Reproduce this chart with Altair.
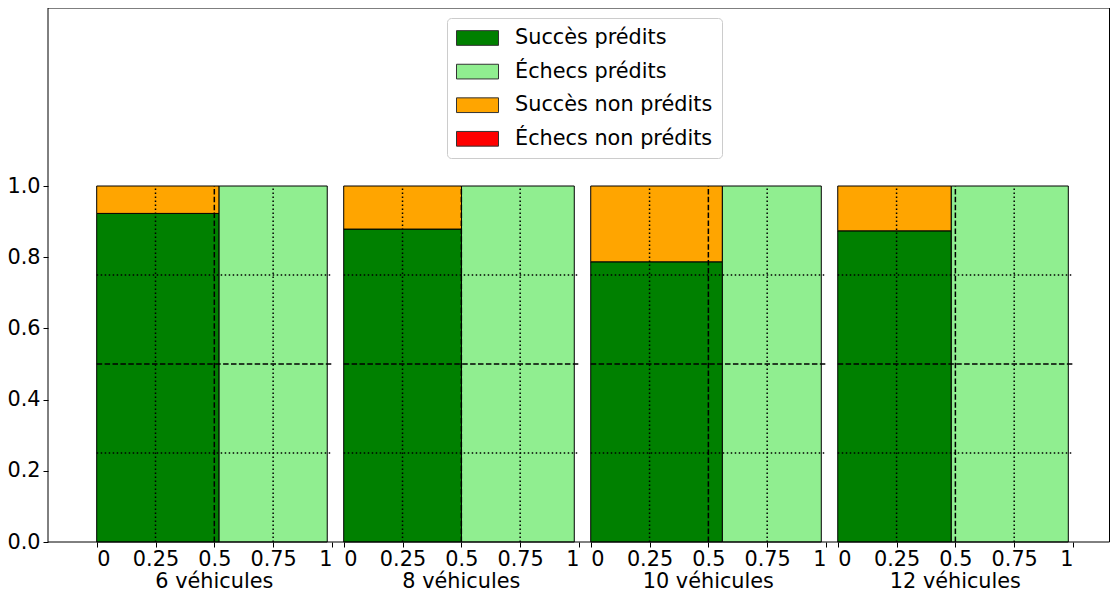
import json
import altair as alt
import pandas as pd

# ---- data ----
groups = ["6 véhicules", "8 véhicules", "10 véhicules", "12 véhicules"]
pred_success_share = [0.531, 0.511, 0.571, 0.4925]   # width share of the "predicted success" column
succes_predits = [0.923, 0.879, 0.787, 0.874]        # height of "Succès prédits" in that column
echecs_predits = [1.0, 1.0, 1.0, 1.0]                # height of "Échecs prédits" in the other column
categories = ["Succès prédits", "Échecs prédits", "Succès non prédits", "Échecs non prédits"]
colors = ["#008000", "#90EE90", "#FFA500", "#FF0000"]
tick_fracs = [0.0, 0.25, 0.5, 0.75, 1.0]
tick_labels = ["0", "0.25", "0.5", "0.75", "1"]
y_ticks = [0.0, 0.2, 0.4, 0.6, 0.8, 1.0]

# ---- layout constants ----
GROUP_STEP = 1.05
SPAN = 0.98
X_DOMAIN = [-0.207, 4.337]
Y_DOMAIN = [0, 1.5]
PLOT_W = 1069          # full plot-area width used by the x scale
W, H = 1062, 534       # view kept inside the page so nothing overflows sideways
FONT = "DejaVu Sans"
FS = 20.8

rects = []
for i, g in enumerate(groups):
    off = round(i * GROUP_STEP, 4)
    w = pred_success_share[i] * SPAN
    s = succes_predits[i]
    f = echecs_predits[i]
    rects.append(dict(grp=g, cat=categories[0], x=off, x2=off + w, y=0, y2=s))
    rects.append(dict(grp=g, cat=categories[2], x=off, x2=off + w, y=s, y2=1))
    rects.append(dict(grp=g, cat=categories[1], x=off + w, x2=off + SPAN, y=0, y2=f))
    if f < 1:
        rects.append(dict(grp=g, cat=categories[3], x=off + w, x2=off + SPAN, y=f, y2=1))
rects = pd.DataFrame(rects)

offsets = [round(i * GROUP_STEP, 4) for i in range(len(groups))]
vdot = pd.DataFrame([dict(x=o + fr, y=0, y2=1) for o in offsets for fr in (0.25, 0.75)])
vdash = pd.DataFrame([dict(x=o + 0.5, y=0, y2=1) for o in offsets])
hdot = pd.DataFrame([dict(x=o, x2=o + 1, y=yy) for o in offsets for yy in (0.25, 0.75)])
hdash = pd.DataFrame([dict(x=o, x2=o + 1, y=0.5) for o in offsets])
labels_df = pd.DataFrame([dict(x=o + 0.5, t=g) for o, g in zip(offsets, groups)])
frame_df = pd.DataFrame([dict(k=1)])

xvals = [round(o + fr, 4) for o in offsets for fr in tick_fracs]
xlabs = tick_labels * len(groups)
zeros = [round(o, 4) for o in offsets]
ones = [round(o + 1.0, 4) for o in offsets]

label_expr = f"{json.dumps(xlabs)}[indexof({json.dumps(xvals)}, datum.value)]"
label_align = {
    "condition": [
        {"test": f"indexof({json.dumps(zeros)}, datum.value) >= 0", "value": "left"},
        {"test": f"indexof({json.dumps(ones)}, datum.value) >= 0", "value": "right"},
    ],
    "value": "center",
}

x_axis = alt.Axis(values=xvals, labelExpr=label_expr, labelAlign=label_align, title=None,
                  grid=False, domain=False, tickSize=5, tickColor="black", tickWidth=1,
                  labelFontSize=FS, labelFont=FONT, labelColor="black", labelPadding=2,
                  labelOverlap=False, labelFlush=False)
y_axis = alt.Axis(values=y_ticks, format=".1f", title=None, grid=False, domain=False,
                  tickSize=5, tickColor="black", tickWidth=1, labelFontSize=FS, labelFont=FONT,
                  labelColor="black", labelPadding=3)

xs = alt.Scale(domain=X_DOMAIN, range=[0, PLOT_W], nice=False, zero=False)
ys = alt.Scale(domain=Y_DOMAIN, nice=False, zero=False)


def X(field="x"):
    return alt.X(f"{field}:Q", scale=xs, axis=x_axis)


def Y(field="y"):
    return alt.Y(f"{field}:Q", scale=ys, axis=y_axis)


bars = alt.Chart(rects).mark_rect(stroke="black", strokeWidth=1).encode(
    x=X(), x2="x2:Q", y=Y(), y2="y2:Q",
    color=alt.Color("cat:N", scale=alt.Scale(domain=categories, range=colors),
                    legend=alt.Legend(orient="none", legendX=399, legendY=10, title=None,
                                      labelFontSize=FS, labelFont=FONT, labelColor="black",
                                      labelLimit=400,
                                      symbolType="M-1,-0.7L3,-0.7L3,0.7L-1,0.7Z",
                                      symbolSize=441, symbolStrokeColor="#333333",
                                      symbolStrokeWidth=1, symbolOpacity=1,
                                      labelOffset=37, rowPadding=12.6, padding=9,
                                      fillColor="white", strokeColor="#cccccc",
                                      cornerRadius=4)),
)

dash_dot = [1.5, 2.5]
dash_dash = [5.5, 2.4]

vdot_l = alt.Chart(vdot).mark_rule(color="black", strokeWidth=1.5, strokeDash=dash_dot).encode(
    x=X(), y=Y(), y2="y2:Q")
vdash_l = alt.Chart(vdash).mark_rule(color="black", strokeWidth=1.5, strokeDash=dash_dash).encode(
    x=X(), y=Y(), y2="y2:Q")
hdot_l = alt.Chart(hdot).mark_rule(color="black", strokeWidth=1.5, strokeDash=dash_dot).encode(
    x=X(), x2="x2:Q", y=Y())
hdash_l = alt.Chart(hdash).mark_rule(color="black", strokeWidth=1.5, strokeDash=dash_dash).encode(
    x=X(), x2="x2:Q", y=Y())

# frame (spines): left/top/bottom from the full plot box, right edge at the page edge
frame = alt.Chart(frame_df).mark_rect(fill="transparent", stroke="black", strokeWidth=1).encode(
    x=alt.value(0), x2=alt.value(W - 0.5), y=alt.value(0), y2=alt.value(H))

texts = alt.Chart(labels_df).mark_text(font=FONT, fontSize=FS, color="black",
                                       baseline="alphabetic", align="center").encode(
    x=X(), y=alt.value(580), text="t:N")

chart = alt.layer(bars, hdot_l, hdash_l, vdot_l, vdash_l, frame, texts).properties(
    width=W, height=H,
    autosize=alt.AutoSizeParams(type="none"),
    padding={"left": 40, "top": 0, "right": 0, "bottom": 52},
).configure_view(strokeWidth=0)

chart.save("out.html", embed_options={"renderer": "svg", "actions": False})
